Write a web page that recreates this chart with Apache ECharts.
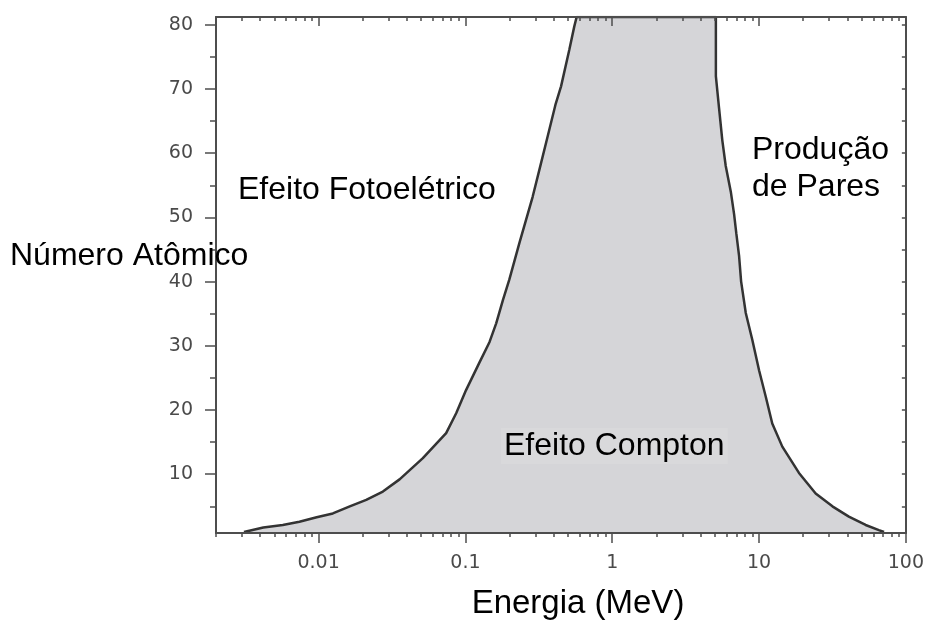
<!DOCTYPE html>
<html>
<head>
<meta charset="utf-8">
<script src="https://cdn.jsdelivr.net/npm/echarts@6/dist/echarts.min.js"></script>
<style>
html, body { margin: 0; padding: 0; background: #fff; }
#chart { width: 927px; height: 622px; }
</style>
</head>
<body>
<div id="chart"></div>
<script>
// fronteira efeito fotoelétrico / Compton: energia (MeV) e número atômico
const leftEnergy = [0.0031, 0.0042, 0.0057, 0.0074, 0.0097, 0.0125, 0.0163, 0.0211, 0.0274, 0.0356,
  0.0513, 0.0739, 0.0865, 0.101, 0.124, 0.146, 0.162, 0.180, 0.199, 0.233,
  0.287, 0.327, 0.363, 0.41, 0.448, 0.51, 0.551, 0.572];
const leftZ = [1.0, 1.7, 2.1, 2.6, 3.3, 3.9, 5.0, 6.0, 7.3, 9.2,
  12.5, 16.4, 19.5, 23.1, 27.3, 30.6, 33.5, 37.1, 40.3, 46,
  53.2, 58.4, 62.6, 67.5, 70.4, 76.1, 79.7, 81.2];

// fronteira Compton / produção de pares
const rightEnergy = [5.08, 5.08, 5.34, 5.62, 5.93, 6.42, 6.76, 7.0, 7.31, 7.55,
  8.12, 9.0, 10, 11.1, 12.3, 14.4, 18.7, 24.3, 31.6, 40.9,
  53.2, 65.5, 71];
const rightZ = [81.2, 72, 67, 62, 58, 54, 50.5, 47.5, 44, 40,
  35.1, 30.9, 26.2, 22.1, 17.9, 14.3, 10.2, 7.0, 5.0, 3.4,
  2.1, 1.3, 1.0];

const xTickLabels = [0.01, 0.1, 1, 10, 100];
const yTickLabels = [10, 20, 30, 40, 50, 60, 70, 80];

const xMin = 0.002, xMax = 100;
const yMin = 0.85, yMax = 81.2;

// marcas menores: 2..9 em cada década
const xMinor = [];
for (let d = -3; d <= 1; d++) {
  for (let m = 2; m <= 9; m++) {
    const v = +(m * Math.pow(10, d)).toPrecision(6);
    if (v >= xMin && v <= xMax) xMinor.push(v);
  }
}
const yMinor = yTickLabels.map(v => v - 5);
const yRight = yTickLabels.concat(yMinor);

const curve = [];
leftEnergy.forEach((e, i) => curve.push([e, leftZ[i]]));
rightEnergy.forEach((e, i) => curve.push([e, rightZ[i]]));

const axisColor = '#4d4d4d';
const tickFont = { fontFamily: 'DejaVu Sans', fontSize: 19, color: '#4a4a4a' };
const textFont = '32px "Liberation Sans", Arial, sans-serif';

function logAxis(position, ticks, len, inside, showLine, showLabel) {
  return {
    type: 'log', logBase: 10, min: xMin, max: xMax, position: position, z: 5,
    axisLine: { show: showLine, onZero: false, lineStyle: { color: axisColor, width: 2 } },
    axisTick: { show: true, customValues: ticks, length: len, inside: inside,
      lineStyle: { color: axisColor, width: 1.5 } },
    axisLabel: showLabel ? Object.assign({ customValues: ticks, margin: 21,
      formatter: v => String(+(+v).toPrecision(6)) }, tickFont) : { show: false },
    splitLine: { show: false }
  };
}

function valAxis(position, ticks, len, inside, showLine, showLabel) {
  return {
    type: 'value', min: yMin, max: yMax, position: position, z: 5,
    axisLine: { show: showLine, onZero: false, lineStyle: { color: axisColor, width: 2 } },
    axisTick: { show: true, customValues: ticks, length: len, inside: inside,
      lineStyle: { color: axisColor, width: 1.5 } },
    axisLabel: showLabel ? Object.assign({ customValues: ticks, margin: 23 }, tickFont) : { show: false },
    splitLine: { show: false }
  };
}

const chart = echarts.init(document.getElementById('chart'));
chart.setOption({
  animation: false,
  backgroundColor: '#fff',
  grid: { left: 216, right: 20, top: 17, bottom: 89 },
  xAxis: [
    logAxis('bottom', xTickLabels, 10, false, true, true),
    logAxis('bottom', xMinor, 4, false, false, false),
    logAxis('top', xTickLabels, 9, true, true, false),
    logAxis('top', xMinor, 4, true, false, false)
  ],
  yAxis: [
    valAxis('left', yTickLabels, 11, false, true, true),
    valAxis('left', yMinor, 6, false, false, false),
    valAxis('right', yRight, 4, true, true, false)
  ],
  series: [{
    type: 'line',
    xAxisIndex: 0,
    yAxisIndex: 0,
    data: curve,
    symbol: 'none',
    clip: true,
    lineStyle: { color: '#333', width: 2.5 },
    areaStyle: { color: '#d5d5d8', opacity: 1, origin: 'start' }
  }],
  graphic: [
    { type: 'text', x: 238, y: 190.5, z: 10,
      style: { text: 'Efeito Fotoelétrico', font: textFont, fill: '#000',
        align: 'left', verticalAlign: 'middle', textAlign: 'left', textVerticalAlign: 'middle' } },
    { type: 'text', x: 10, y: 256, z: 10,
      style: { text: 'Número Atômico', font: textFont, fill: '#000',
        align: 'left', verticalAlign: 'middle', textAlign: 'left', textVerticalAlign: 'middle' } },
    { type: 'text', x: 501, y: 446, z: 10,
      style: { text: 'Efeito Compton', font: textFont, fill: '#000',
        backgroundColor: '#d9d9db', padding: [2, 3],
        align: 'left', verticalAlign: 'middle', textAlign: 'left', textVerticalAlign: 'middle' } },
    { type: 'text', x: 752, y: 169, z: 10,
      style: { text: 'Produção\nde Pares', font: textFont, fill: '#000', lineHeight: 37,
        align: 'left', verticalAlign: 'middle', textAlign: 'left', textVerticalAlign: 'middle' } },
    { type: 'text', x: 578, y: 604, z: 10,
      style: { text: 'Energia (MeV)', font: '33px "Liberation Sans", Arial, sans-serif', fill: '#000',
        align: 'center', verticalAlign: 'middle', textAlign: 'center', textVerticalAlign: 'middle' } }
  ]
});
</script>
</body>
</html>
